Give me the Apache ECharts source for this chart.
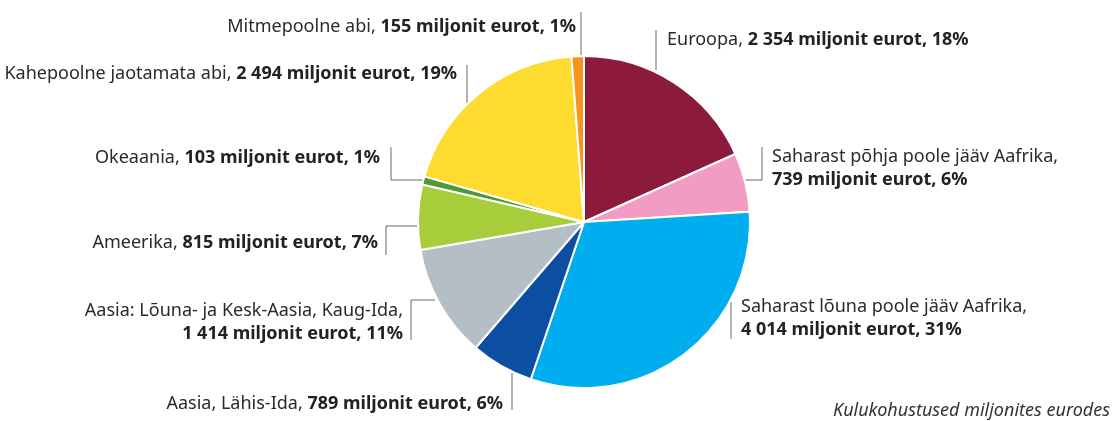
<!DOCTYPE html>
<html>
<head>
<meta charset="utf-8">
<script src="https://cdn.jsdelivr.net/npm/echarts@6/dist/echarts.min.js"></script>
<style>
  html, body { margin: 0; padding: 0; background: #fff; }
  #chart { width: 1117px; height: 421px; }
</style>
</head>
<body>
<div id="chart"></div>
<script>
// piirkonnad, kellaosuti suunas alates kella 12-st
const regions = [
  'Euroopa,',
  'Saharast põhja poole jääv Aafrika,',
  'Saharast lõuna poole jääv Aafrika,',
  'Aasia, Lähis-Ida,',
  'Aasia: Lõuna- ja Kesk-Aasia, Kaug-Ida,',
  'Ameerika,',
  'Okeaania,',
  'Kahepoolne jaotamata abi,',
  'Mitmepoolne abi,'
];
const amounts = [2354, 739, 4014, 789, 1414, 815, 103, 2494, 155];
const shares = [18, 6, 31, 6, 11, 7, 1, 19, 1];
const twoLine = [false, true, true, false, true, false, false, false, false];
const colors = ['#8c1a3a', '#f29bc3', '#00adee', '#0b4ea2', '#b4bfc5', '#a7cd3a', '#4e9a34', '#fedb2f', '#f7941d'];

// sildi asukoht + juhtjoon (pikslid)
const spots = [
  { x: 667, y: 40, align: 'left', line: [[656, 70], [656, 30]] },
  { x: 772, y: 168, align: 'left', line: [[745, 180], [762, 180], [762, 147]] },
  { x: 741, y: 318, align: 'left', line: [[731, 302], [731, 339]] },
  { x: 503, y: 404, align: 'right', line: [[512, 373], [512, 410]] },
  { x: 403, y: 322, align: 'right', line: [[435, 300], [411, 300], [411, 340]] },
  { x: 378, y: 243, align: 'right', line: [[417, 226], [386, 226], [386, 255]] },
  { x: 380, y: 158, align: 'right', line: [[423, 180], [391, 180], [391, 147]] },
  { x: 457, y: 74, align: 'right', line: [[467, 103], [467, 65]] },
  { x: 576, y: 27, align: 'right', line: [[581, 55], [581, 12]] }
];

function fmt(n) {
  return String(n).replace(/\B(?=(\d{3})+(?!\d))/g, ' ');
}

const chart = echarts.init(document.getElementById('chart'));

chart.setOption({
  animation: false,
  title: {
    text: 'Kulukohustused miljonites eurodes',
    right: 2,
    bottom: -4,
    textStyle: { fontFamily: 'Noto Sans', fontSize: 18, fontStyle: 'italic', fontWeight: 'normal', color: '#333' }
  },
  series: [{
    type: 'pie',
    center: [584, 222],
    radius: 166,
    startAngle: 90,
    clockwise: true,
    color: colors,
    itemStyle: { borderColor: '#fff', borderWidth: 2 },
    label: {
      show: true,
      overflow: 'none',
      fontFamily: 'Noto Sans',
      fontSize: 18,
      color: '#2a2a2a',
      lineHeight: 23,
      formatter: p => {
        const i = p.dataIndex;
        const sep = twoLine[i] ? '\n' : ' ';
        return '{n|' + regions[i] + '}' + sep + '{b|' + fmt(amounts[i]) + ' miljonit eurot, ' + shares[i] + '%}';
      },
      rich: {
        n: { fontFamily: 'Noto Sans', fontSize: 18, color: '#2a2a2a', lineHeight: 23 },
        b: { fontFamily: 'Noto Sans', fontSize: 18, fontWeight: 'bold', color: '#222', lineHeight: 23 }
      }
    },
    labelLine: { show: true, lineStyle: { color: '#666', width: 1 } },
    labelLayout: p => {
      const s = spots[p.dataIndex];
      return { x: s.x, y: s.y, align: s.align, verticalAlign: 'middle', labelLinePoints: s.line };
    },
    data: regions.map((r, i) => ({ name: r, value: amounts[i] }))
  }]
});
</script>
</body>
</html>
